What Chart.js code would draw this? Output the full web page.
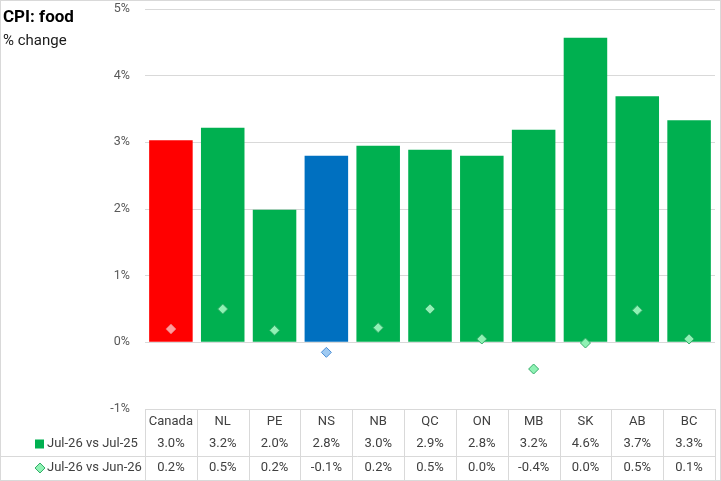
<!DOCTYPE html>
<html>
<head>
<meta charset="utf-8">
<title>CPI: food</title>
<script src="https://cdn.jsdelivr.net/npm/chart.js@4.4.1/dist/chart.umd.min.js"></script>
<style>
    html, body { margin: 0; padding: 0; background: #ffffff; }
    #wrap { position: relative; width: 721px; height: 481px; }
</style>
</head>
<body>
<div id="wrap"><canvas id="cpiChart" width="721" height="481"></canvas></div>
<script>
// Chart data
const categories = ['Canada', 'NL', 'PE', 'NS', 'NB', 'QC', 'ON', 'MB', 'SK', 'AB', 'BC'];
const yearlyChange = [3.03, 3.22, 1.99, 2.80, 2.95, 2.89, 2.80, 3.19, 4.57, 3.69, 3.33];
const monthlyChange = [0.20, 0.50, 0.18, -0.15, 0.22, 0.50, 0.05, -0.40, -0.01, 0.48, 0.05];
const yearlyLabels = ['3.0%', '3.2%', '2.0%', '2.8%', '3.0%', '2.9%', '2.8%', '3.2%', '4.6%', '3.7%', '3.3%'];
const monthlyLabels = ['0.2%', '0.5%', '0.2%', '-0.1%', '0.2%', '0.5%', '0.0%', '-0.4%', '0.0%', '0.5%', '0.1%'];
const seriesNames = ['Jul-26 vs Jul-25', 'Jul-26 vs Jun-26'];
const yTicks = [-1, 0, 1, 2, 3, 4, 5];

const colors = {
    canada: '#ff0000',
    atlantic: '#0070c0',
    province: '#00b050',
    grid: '#d9d9d9',
    text: '#404040',
    tick: '#595959'
};

const FONT = 'Roboto, "Liberation Sans", sans-serif';

// Canada red, NS blue, the rest green
const barColors = categories.map(c => c === 'Canada' ? colors.canada : (c === 'NS' ? colors.atlantic : colors.province));
const pointFill = categories.map(c => c === 'Canada' ? '#ff9c9c' : (c === 'NS' ? '#9fcaf2' : '#8ff2b4'));
const pointEdge = categories.map(c => c === 'Canada' ? '#f06a6a' : (c === 'NS' ? '#4b8fd6' : '#35ad6a'));

// Title, subtitle, frame and the data table under the plot
const tablePlugin = {
    id: 'dataTable',
    afterDraw(chart) {
        const ctx = chart.ctx;
        const x = chart.scales.x;
        const area = chart.chartArea;
        const W = chart.width, H = chart.height;
        const rowCat = area.bottom + 13;
        const row1 = area.bottom + 35;
        const row2 = area.bottom + 59;
        const sepY = area.bottom + 47;

        ctx.save();
        ctx.strokeStyle = colors.grid;
        ctx.lineWidth = 1;

        // table grid
        ctx.beginPath();
        ctx.moveTo(area.left, area.bottom + 0.5);
        ctx.lineTo(area.right, area.bottom + 0.5);
        ctx.moveTo(0, Math.round(sepY) + 0.5);
        ctx.lineTo(area.right, Math.round(sepY) + 0.5);
        for (let i = 0; i <= categories.length; i++) {
            const bx = Math.round(x.getPixelForValue(i - 0.5)) + 0.5;
            ctx.moveTo(bx, area.bottom);
            ctx.lineTo(bx, H);
        }
        ctx.stroke();

        // outer frame
        ctx.strokeRect(0.5, 0.5, W - 1, H - 1);

        // cell text
        ctx.fillStyle = colors.text;
        ctx.font = '13px ' + FONT;
        ctx.textAlign = 'center';
        ctx.textBaseline = 'middle';
        categories.forEach((c, i) => {
            const cx = x.getPixelForValue(i);
            ctx.fillText(c, cx, rowCat);
            ctx.fillText(yearlyLabels[i], cx, row1);
            ctx.fillText(monthlyLabels[i], cx, row2);
        });

        // row legend keys
        ctx.textAlign = 'left';
        ctx.fillText(seriesNames[0], 47, row1);
        ctx.fillText(seriesNames[1], 47, row2);
        ctx.fillStyle = colors.province;
        ctx.fillRect(35, row1 - 4.5, 9, 9);
        ctx.beginPath();
        ctx.moveTo(40, row2 - 5);
        ctx.lineTo(45, row2);
        ctx.lineTo(40, row2 + 5);
        ctx.lineTo(35, row2);
        ctx.closePath();
        ctx.fillStyle = '#8ff2b4';
        ctx.fill();
        ctx.strokeStyle = '#35ad6a';
        ctx.stroke();

        // title block
        ctx.fillStyle = '#000000';
        ctx.textBaseline = 'alphabetic';
        ctx.font = 'bold 17px ' + FONT;
        ctx.fillText('CPI: food', 3, 22);
        ctx.fillStyle = '#1a1a1a';
        ctx.font = '15px ' + FONT;
        ctx.fillText('% change', 3, 45);
        ctx.restore();
    }
};

new Chart(document.getElementById('cpiChart'), {
    data: {
        labels: categories,
        datasets: [
            {
                type: 'line',
                label: seriesNames[1],
                data: monthlyChange,
                showLine: false,
                pointStyle: 'rectRot',
                pointRadius: 5,
                pointBorderWidth: 1,
                pointBackgroundColor: pointFill,
                pointBorderColor: pointEdge,
                order: 0
            },
            {
                type: 'bar',
                label: seriesNames[0],
                data: yearlyChange,
                backgroundColor: barColors,
                borderWidth: 0,
                categoryPercentage: 1,
                barPercentage: 0.84,
                order: 1
            }
        ]
    },
    options: {
        responsive: false,
        animation: false,
        events: [],
        layout: {
            padding: { left: 0, right: 1, top: 9, bottom: 72 }
        },
        plugins: {
            legend: { display: false },
            tooltip: { enabled: false }
        },
        scales: {
            x: {
                display: false,
                offset: true
            },
            y: {
                min: yTicks[0],
                max: yTicks[yTicks.length - 1],
                afterBuildTicks(scale) {
                    scale.ticks = yTicks.map(v => ({ value: v }));
                },
                afterFit(scale) {
                    scale.width = 145;
                    scale.paddingTop = 0;
                    scale.paddingBottom = 0;
                },
                grid: {
                    color: colors.grid,
                    lineWidth: 1,
                    drawTicks: false
                },
                border: { display: false },
                ticks: {
                    color: colors.tick,
                    padding: 15,
                    font: { family: FONT, size: 12.5 },
                    callback: v => v + '%'
                }
            }
        }
    },
    plugins: [tablePlugin]
});
</script>
</body>
</html>
